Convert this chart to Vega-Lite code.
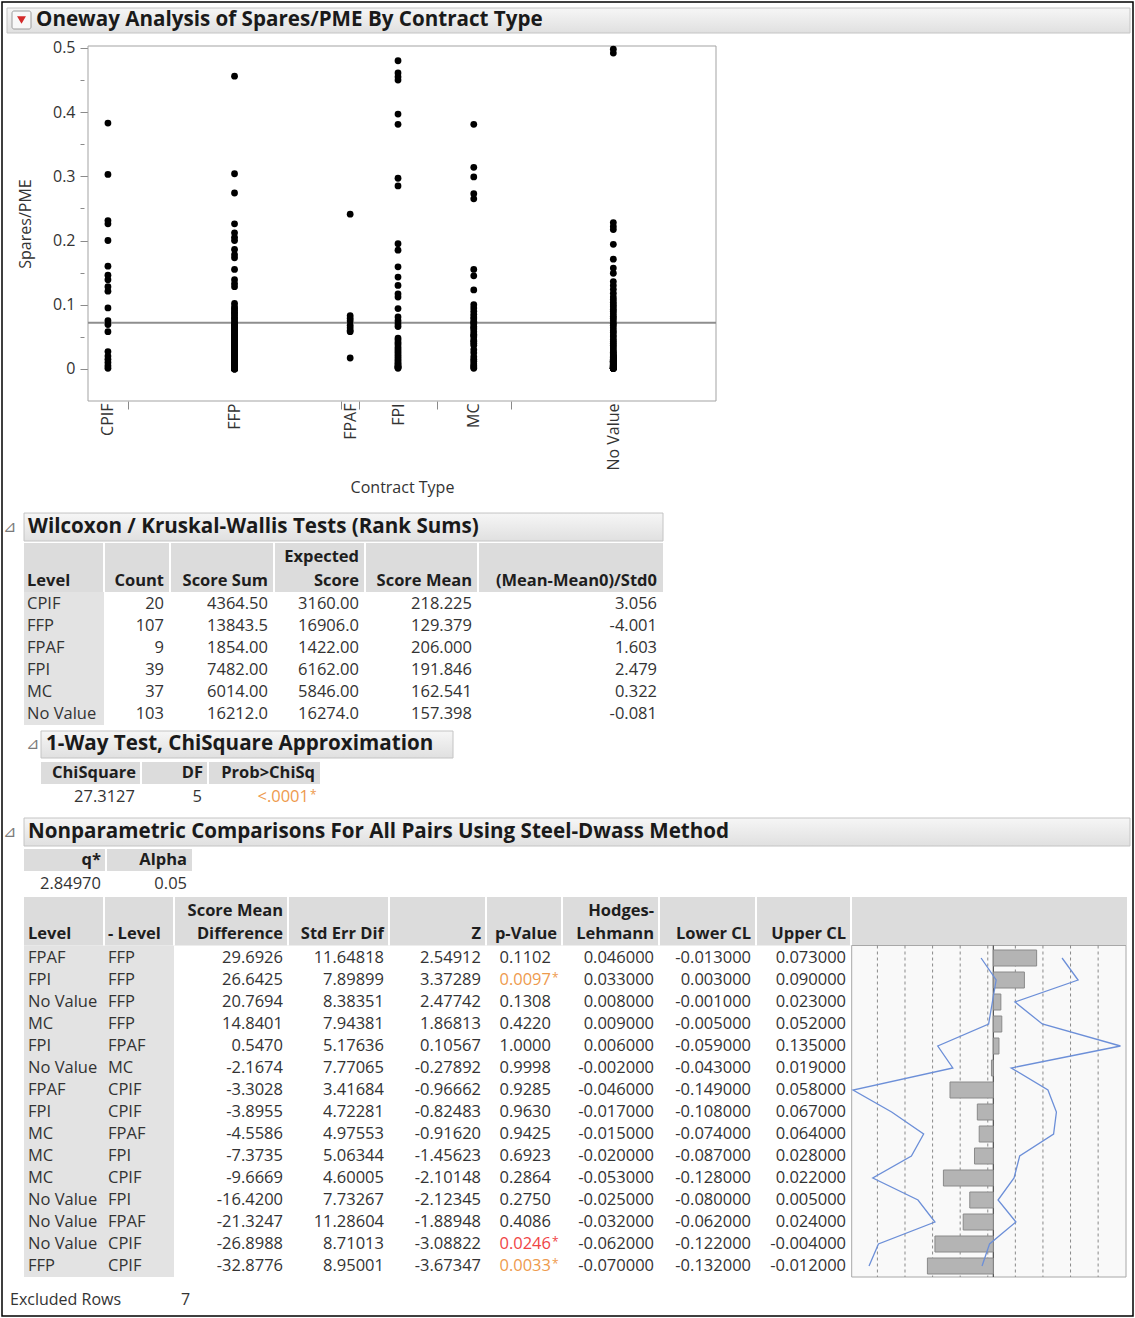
{
"$schema":"https://vega.github.io/schema/vega-lite/v6.json",
"width":1131,"height":1314,"padding":2,"autosize":"none",
"background":"#ffffff",
"config":{
 "view":{"stroke":"#000000","strokeWidth":1.5,"fill":"#ffffff"},
 "font":"Open Sans",
 "locale":{"number":{"decimal":".","thousands":",","grouping":[3],"currency":["$",""],"minus":"-"}},
 "text":{"font":"Open Sans","fontSize":16.5,"color":"#333333"}
},
"datasets":{
 "spares":[
  {"t":"CPIF","v":[0.383,0.303,0.231,0.226,0.200,0.160,0.146,0.139,0.128,0.121,0.095,0.075,0.069,0.058,0.027,0.020,0.015,0.010,0.005,0.001]},
  {"t":"FFP","v":[0.456,0.304,0.274,0.226,0.212,0.205,0.200,0.186,0.178,0.173,0.155,0.139,0.133,0.128,0.102,0.097,0.094,0.091,0.088,0.086,0.083,0.080,0.078,0.075,0.072,0.070,0.068,0.066,0.064,0.062,0.060,0.058,0.056,0.054,0.052,0.050,0.049,0.047,0.046,0.044,0.043,0.041,0.040,0.038,0.037,0.035,0.034,0.033,0.032,0.031,0.030,0.029,0.028,0.027,0.026,0.025,0.024,0.023,0.022,0.021,0.020,0.019,0.018,0.017,0.016,0.015,0.014,0.013,0.012,0.011,0.010,0.009,0.008,0.007,0.006,0.0055,0.005,0.0045,0.004,0.0035,0.003,0.0025,0.002,0.0015,0.001,0.001,0.0008,0.0006,0.0005,0.0004,0.0003,0.0002,0.0001,0,0,0,0,0.069,0.061,0.053,0.045,0.039,0.036,0.024,0.012,0.006,0.003]},
  {"t":"FPAF","v":[0.241,0.083,0.079,0.075,0.068,0.064,0.060,0.058,0.017]},
  {"t":"FPI","v":[0.480,0.461,0.455,0.450,0.397,0.381,0.297,0.285,0.195,0.185,0.159,0.143,0.130,0.117,0.112,0.094,0.081,0.075,0.070,0.066,0.048,0.045,0.041,0.038,0.034,0.031,0.028,0.025,0.022,0.019,0.016,0.013,0.010,0.008,0.006,0.004,0.003,0.002,0.001]},
  {"t":"MC","v":[0.381,0.314,0.299,0.273,0.265,0.155,0.145,0.123,0.100,0.095,0.090,0.085,0.081,0.078,0.074,0.072,0.070,0.066,0.064,0.062,0.058,0.054,0.052,0.050,0.045,0.043,0.040,0.037,0.030,0.025,0.019,0.015,0.012,0.008,0.005,0.003,0.001]},
  {"t":"No Value","v":[0.498,0.492,0.228,0.222,0.217,0.194,0.171,0.157,0.149,0.136,0.130,0.124,0.118,0.112,0.108,0.104,0.100,0.097,0.093,0.090,0.086,0.082,0.079,0.075,0.071,0.068,0.064,0.060,0.057,0.053,0.050,0.046,0.043,0.040,0.037,0.034,0.031,0.028,0.026,0.024,0.022,0.020,0.018,0.016,0.015,0.014,0.013,0.012,0.011,0.010,0.009,0.008,0.007,0.012,0.011,0.010,0.0095,0.009,0.0085,0.008,0.0075,0.007,0.0065,0.006,0.006,0.0055,0.0055,0.005,0.005,0.0045,0.0045,0.004,0.004,0.0035,0.0035,0.003,0.003,0.0025,0.0025,0.002,0.002,0.0015,0.0015,0.001,0.001,0.001,0.001,0.001,0.001,0.001,0.001,0.001,0.001,0.020,0.019,0.017,0.015,0.013,0.012,0.011,0.010,0.004,0.002]}
 ],
 "wilcoxon":[
  {"lv":"CPIF","n":20,"ss":4364.5,"es":3160,"sm":218.225,"sd":3.056},
  {"lv":"FFP","n":107,"ss":13843.5,"es":16906,"sm":129.379,"sd":-4.001},
  {"lv":"FPAF","n":9,"ss":1854,"es":1422,"sm":206,"sd":1.603},
  {"lv":"FPI","n":39,"ss":7482,"es":6162,"sm":191.846,"sd":2.479},
  {"lv":"MC","n":37,"ss":6014,"es":5846,"sm":162.541,"sd":0.322},
  {"lv":"No Value","n":103,"ss":16212,"es":16274,"sm":157.398,"sd":-0.081}
 ],
 "pairs":[
  {"lv":"FPAF","lv2":"FFP","d":29.6926,"se":11.64818,"z":2.54912,"p":0.1102,"hl":0.046,"lo":-0.013,"hi":0.073},
  {"lv":"FPI","lv2":"FFP","d":26.6425,"se":7.89899,"z":3.37289,"p":0.0097,"hl":0.033,"lo":0.003,"hi":0.09},
  {"lv":"No Value","lv2":"FFP","d":20.7694,"se":8.38351,"z":2.47742,"p":0.1308,"hl":0.008,"lo":-0.001,"hi":0.023},
  {"lv":"MC","lv2":"FFP","d":14.8401,"se":7.94381,"z":1.86813,"p":0.422,"hl":0.009,"lo":-0.005,"hi":0.052},
  {"lv":"FPI","lv2":"FPAF","d":0.547,"se":5.17636,"z":0.10567,"p":1.0,"hl":0.006,"lo":-0.059,"hi":0.135},
  {"lv":"No Value","lv2":"MC","d":-2.1674,"se":7.77065,"z":-0.27892,"p":0.9998,"hl":-0.002,"lo":-0.043,"hi":0.019},
  {"lv":"FPAF","lv2":"CPIF","d":-3.3028,"se":3.41684,"z":-0.96662,"p":0.9285,"hl":-0.046,"lo":-0.149,"hi":0.058},
  {"lv":"FPI","lv2":"CPIF","d":-3.8955,"se":4.72281,"z":-0.82483,"p":0.963,"hl":-0.017,"lo":-0.108,"hi":0.067},
  {"lv":"MC","lv2":"FPAF","d":-4.5586,"se":4.97553,"z":-0.9162,"p":0.9425,"hl":-0.015,"lo":-0.074,"hi":0.064},
  {"lv":"MC","lv2":"FPI","d":-7.3735,"se":5.06344,"z":-1.45623,"p":0.6923,"hl":-0.02,"lo":-0.087,"hi":0.028},
  {"lv":"MC","lv2":"CPIF","d":-9.6669,"se":4.60005,"z":-2.10148,"p":0.2864,"hl":-0.053,"lo":-0.128,"hi":0.022},
  {"lv":"No Value","lv2":"FPI","d":-16.42,"se":7.73267,"z":-2.12345,"p":0.275,"hl":-0.025,"lo":-0.08,"hi":0.005},
  {"lv":"No Value","lv2":"FPAF","d":-21.3247,"se":11.28604,"z":-1.88948,"p":0.4086,"hl":-0.032,"lo":-0.062,"hi":0.024},
  {"lv":"No Value","lv2":"CPIF","d":-26.8988,"se":8.71013,"z":-3.08822,"p":0.0246,"hl":-0.062,"lo":-0.122,"hi":-0.004},
  {"lv":"FFP","lv2":"CPIF","d":-32.8776,"se":8.95001,"z":-3.67347,"p":0.0033,"hl":-0.07,"lo":-0.132,"hi":-0.012}
 ]
},
"resolve":{"scale":{"x":"independent","y":"independent"}},
"layer":[
 {"data":{"values":[{"title":"Oneway Analysis of Spares/PME By Contract Type"}]},
  "layer":[
   {"mark":{"type":"rect","fill":{"x1":0,"y1":0,"x2":0,"y2":1,"gradient":"linear","stops":[{"offset":0,"color":"#f6f6f6"},{"offset":1,"color":"#e0e0e0"}]},"stroke":"#c4c4c4","strokeWidth":1},
    "encoding":{"x":{"datum":0,"type":"quantitative","scale":{"domain":[0,1,2,3],"range":[5,10,29,1128],"nice":false,"zero":false},"axis":null},"x2":{"datum":3},"y":{"datum":0,"type":"quantitative","scale":{"domain":[0,1,2,3],"range":[6,9,27,31],"nice":false,"zero":false},"axis":null},"y2":{"datum":3}}},
   {"mark":{"type":"rect","fill":"#f8f8f8","stroke":"#9c9c9c","strokeWidth":1,"cornerRadius":2},
    "encoding":{"x":{"datum":1,"type":"quantitative","scale":{"domain":[0,1,2,3],"range":[5,10,29,1128],"nice":false,"zero":false},"axis":null},"x2":{"datum":2},"y":{"datum":1,"type":"quantitative","scale":{"domain":[0,1,2,3],"range":[6,9,27,31],"nice":false,"zero":false},"axis":null},"y2":{"datum":2}}},
   {"mark":{"type":"point","shape":"triangle-down","filled":true,"color":"#d42a2a","size":80,"opacity":1},
    "encoding":{"x":{"datum":1.5,"type":"quantitative","scale":{"domain":[0,1,2,3],"range":[5,10,29,1128],"nice":false,"zero":false},"axis":null},"y":{"datum":1.5,"type":"quantitative","scale":{"domain":[0,1,2,3],"range":[6,9,27,31],"nice":false,"zero":false},"axis":null}}},
   {"mark":{"type":"text","align":"left","baseline":"middle","dx":5,"fontSize":20.6,"fontWeight":"bold","color":"#1a1a1a"},
    "encoding":{"x":{"datum":2,"type":"quantitative","scale":{"domain":[0,1,2,3],"range":[5,10,29,1128],"nice":false,"zero":false},"axis":null},"y":{"datum":1.5,"type":"quantitative","scale":{"domain":[0,1,2,3],"range":[6,9,27,31],"nice":false,"zero":false},"axis":null},"text":{"field":"title","type":"nominal"}}}
  ]},
 {"layer":[
   {"data":{"values":[{}]},"mark":{"type":"rect","fill":"#ffffff","stroke":"#a3a3a3","strokeWidth":1},
    "encoding":{"x":{"datum":0.5,"type":"quantitative","scale":{"domain":[0.5,315.5],"range":[86,714],"nice":false,"zero":false}},"x2":{"datum":315.5},"y":{"datum":-0.05,"type":"quantitative","scale":{"domain":[-0.05,0.503],"range":[399,44],"nice":false,"zero":false}},"y2":{"datum":0.503}}},
   {"data":{"name":"spares"},"transform":[{"flatten":["v"]}],
    "mark":{"type":"rule","color":"#8e8e8e","strokeWidth":2},
    "encoding":{"y":{"aggregate":"mean","field":"v","type":"quantitative","scale":{"domain":[-0.05,0.503],"range":[399,44],"nice":false,"zero":false}},"x":{"datum":0.5,"type":"quantitative","scale":{"domain":[0.5,315.5],"range":[86,714],"nice":false,"zero":false}},"x2":{"datum":315.5}}},
   {"data":{"name":"spares"},
    "transform":[{"flatten":["v"]},{"window":[{"op":"row_number","as":"rk"}],"sort":[{"field":"t","order":"ascending"}]},{"joinaggregate":[{"op":"mean","field":"rk","as":"xc"}],"groupby":["t"]}],
    "mark":{"type":"circle","color":"#000000","size":46,"opacity":1},
    "encoding":{
     "x":{"field":"xc","type":"quantitative","scale":{"domain":[0.5,315.5],"range":[86,714],"nice":false,"zero":false},
      "axis":{"orient":"bottom","offset":-915,"values":[10.5,20.5,74,127.5,132,136.5,156,175.5,194,212.5,264],
       "labelExpr":"datum.value==10.5?'CPIF':datum.value==74?'FFP':datum.value==132?'FPAF':datum.value==156?'FPI':datum.value==194?'MC':datum.value==264?'No Value':''",
       "labelAngle":270,"labelAlign":"right","labelBaseline":"middle","labelPadding":-6,"labelFontSize":16,"labelFont":"Open Sans","labelColor":"#333333","labelOverlap":false,"labelBound":false,"labelFlush":false,
       "tickSize":8,"tickColor":"#8a8a8a","tickOpacity":{"condition":{"test":"indexof([10.5,74,132,156,194,264], datum.value) >= 0","value":0},"value":1},
       "domain":false,"grid":false,
       "title":"Contract Type","titleFont":"Open Sans","titleFontSize":16,"titleFontWeight":"normal","titleColor":"#333333","titlePadding":9}},
     "y":{"field":"v","type":"quantitative","scale":{"domain":[-0.05,0.503],"range":[399,44],"nice":false,"zero":false},
      "axis":{"orient":"left","offset":-86,"values":[0,0.05,0.1,0.15,0.2,0.25,0.3,0.35,0.4,0.45,0.5],
       "labelExpr":"round(datum.value*100) % 10 == 0 ? format(datum.value, '~g') : ''",
       "labelFontSize":16,"labelFont":"Open Sans","labelColor":"#333333","labelPadding":5,"tickSize":8,
       "tickOpacity":1,
       "tickWidth":{"condition":{"test":"round(datum.value*100) % 10 != 0","value":1},"value":1},
       "tickDash":{"condition":{"test":"round(datum.value*100) % 10 != 0","value":[0,4,4,0]},"value":[]},
       "tickColor":"#8a8a8a","domain":false,"grid":false,
       "title":"Spares/PME","titleFont":"Open Sans","titleFontSize":16,"titleFontWeight":"normal","titleColor":"#333333","titlePadding":19}}}}
  ]},
 {"layer":[
   {"data":{"values":[{"title":"Wilcoxon / Kruskal-Wallis Tests (Rank Sums)"}]},"layer":[
     {"mark":{"type":"rect","fill":{"x1":0,"y1":0,"x2":0,"y2":1,"gradient":"linear","stops":[{"offset":0,"color":"#f6f6f6"},{"offset":1,"color":"#e0e0e0"}]},"stroke":"#c4c4c4","strokeWidth":1},
      "encoding":{"x":{"datum":0,"type":"quantitative","scale":{"domain":[-1,0,1,2,3,4,5,6],"range":[1,22,102,168,272,363,476,661],"nice":false,"zero":false},"axis":null},"x2":{"datum":6},"y":{"datum":-2.79,"type":"quantitative","scale":{"domain":[0,1,6],"range":[578,602,712],"nice":false,"zero":false},"axis":null},"y2":{"datum":-1.625}}},
     {"mark":{"type":"text","align":"left","baseline":"middle","font":"DejaVu Sans","fontSize":16,"color":"#7a7a7a","text":"\u22bf"},
      "encoding":{"x":{"datum":-1,"type":"quantitative","scale":{"domain":[-1,0,1,2,3,4,5,6],"range":[1,22,102,168,272,363,476,661],"nice":false,"zero":false},"axis":null},"y":{"datum":-2.21,"type":"quantitative","scale":{"domain":[0,1,6],"range":[578,602,712],"nice":false,"zero":false},"axis":null}}},
     {"mark":{"type":"text","align":"left","baseline":"middle","dx":4,"fontSize":20.6,"fontWeight":"bold","color":"#1a1a1a"},
      "encoding":{"x":{"datum":0,"type":"quantitative","scale":{"domain":[-1,0,1,2,3,4,5,6],"range":[1,22,102,168,272,363,476,661],"nice":false,"zero":false},"axis":null},"y":{"datum":-2.21,"type":"quantitative","scale":{"domain":[0,1,6],"range":[578,602,712],"nice":false,"zero":false},"axis":null},"text":{"field":"title","type":"nominal"}}},
     {"mark":{"type":"rect","fill":"#dcdcdc"},
      "encoding":{"x":{"datum":0,"type":"quantitative","scale":{"domain":[-1,0,1,2,3,4,5,6],"range":[1,22,102,168,272,363,476,661],"nice":false,"zero":false},"axis":null},"x2":{"datum":6},"y":{"datum":-1.54,"type":"quantitative","scale":{"domain":[0,1,6],"range":[578,602,712],"nice":false,"zero":false},"axis":null},"y2":{"datum":0.5}}},
     {"mark":{"type":"rect","fill":"#e3e3e3"},
      "encoding":{"x":{"datum":0,"type":"quantitative","scale":{"domain":[-1,0,1,2,3,4,5,6],"range":[1,22,102,168,272,363,476,661],"nice":false,"zero":false},"axis":null},"x2":{"datum":1},"y":{"datum":0.5,"type":"quantitative","scale":{"domain":[0,1,6],"range":[578,602,712],"nice":false,"zero":false},"axis":null},"y2":{"datum":6.5}}}
   ]},
   {"data":{"values":[{"c":1},{"c":2},{"c":3},{"c":4},{"c":5}]},"mark":{"type":"rule","color":"#ffffff","strokeWidth":2},
    "encoding":{"x":{"field":"c","type":"quantitative","scale":{"domain":[-1,0,1,2,3,4,5,6],"range":[1,22,102,168,272,363,476,661],"nice":false,"zero":false},"axis":null},"y":{"datum":-1.54,"type":"quantitative","scale":{"domain":[0,1,6],"range":[578,602,712],"nice":false,"zero":false},"axis":null},"y2":{"datum":0.5}}},
   {"data":{"values":[{"c":0,"s":"Level"}]},"mark":{"type":"text","align":"left","baseline":"alphabetic","dx":3,"dy":6,"fontWeight":"bold","color":"#1e1e1e"},
    "encoding":{"x":{"field":"c","type":"quantitative","scale":{"domain":[-1,0,1,2,3,4,5,6],"range":[1,22,102,168,272,363,476,661],"nice":false,"zero":false},"axis":null},"y":{"datum":0,"type":"quantitative","scale":{"domain":[0,1,6],"range":[578,602,712],"nice":false,"zero":false},"axis":null},"text":{"field":"s","type":"nominal"}}},
   {"data":{"values":[{"c":2,"s":"Count"},{"c":3,"s":"Score Sum"},{"c":5,"s":"Score Mean"},{"c":6,"s":"(Mean-Mean0)/Std0"}]},
    "mark":{"type":"text","align":"right","baseline":"alphabetic","dx":-6,"dy":6,"fontWeight":"bold","color":"#1e1e1e"},
    "encoding":{"x":{"field":"c","type":"quantitative","scale":{"domain":[-1,0,1,2,3,4,5,6],"range":[1,22,102,168,272,363,476,661],"nice":false,"zero":false},"axis":null},"y":{"datum":0,"type":"quantitative","scale":{"domain":[0,1,6],"range":[578,602,712],"nice":false,"zero":false},"axis":null},"text":{"field":"s","type":"nominal"}}},
   {"data":{"values":[{"c":4,"s":"Expected\nScore"}]},
    "mark":{"type":"text","align":"right","baseline":"alphabetic","dx":-6,"dy":6,"fontWeight":"bold","color":"#1e1e1e","lineBreak":"\n","lineHeight":24},
    "encoding":{"x":{"field":"c","type":"quantitative","scale":{"domain":[-1,0,1,2,3,4,5,6],"range":[1,22,102,168,272,363,476,661],"nice":false,"zero":false},"axis":null},"y":{"datum":-1,"type":"quantitative","scale":{"domain":[0,1,6],"range":[578,602,712],"nice":false,"zero":false},"axis":null},"text":{"field":"s","type":"nominal"}}},
   {"data":{"name":"wilcoxon"},"transform":[{"window":[{"op":"row_number","as":"r"}]}],"layer":[
     {"mark":{"type":"text","align":"left","baseline":"middle","dx":3},
      "encoding":{"x":{"datum":0,"type":"quantitative","scale":{"domain":[-1,0,1,2,3,4,5,6],"range":[1,22,102,168,272,363,476,661],"nice":false,"zero":false},"axis":null},"y":{"field":"r","type":"quantitative","scale":{"domain":[0,1,6],"range":[578,602,712],"nice":false,"zero":false},"axis":null},"text":{"field":"lv","type":"nominal"}}},
     {"mark":{"type":"text","align":"right","baseline":"middle","dx":-6},
      "encoding":{"x":{"datum":2,"type":"quantitative","scale":{"domain":[-1,0,1,2,3,4,5,6],"range":[1,22,102,168,272,363,476,661],"nice":false,"zero":false},"axis":null},"y":{"field":"r","type":"quantitative","scale":{"domain":[0,1,6],"range":[578,602,712],"nice":false,"zero":false},"axis":null},"text":{"field":"n","type":"quantitative","format":"d"}}},
     {"mark":{"type":"text","align":"right","baseline":"middle","dx":-6},
      "encoding":{"x":{"datum":3,"type":"quantitative","scale":{"domain":[-1,0,1,2,3,4,5,6],"range":[1,22,102,168,272,363,476,661],"nice":false,"zero":false},"axis":null},"y":{"field":"r","type":"quantitative","scale":{"domain":[0,1,6],"range":[578,602,712],"nice":false,"zero":false},"axis":null},"text":{"field":"ss","type":"quantitative","format":".6r"}}},
     {"mark":{"type":"text","align":"right","baseline":"middle","dx":-6},
      "encoding":{"x":{"datum":4,"type":"quantitative","scale":{"domain":[-1,0,1,2,3,4,5,6],"range":[1,22,102,168,272,363,476,661],"nice":false,"zero":false},"axis":null},"y":{"field":"r","type":"quantitative","scale":{"domain":[0,1,6],"range":[578,602,712],"nice":false,"zero":false},"axis":null},"text":{"field":"es","type":"quantitative","format":".6r"}}},
     {"mark":{"type":"text","align":"right","baseline":"middle","dx":-6},
      "encoding":{"x":{"datum":5,"type":"quantitative","scale":{"domain":[-1,0,1,2,3,4,5,6],"range":[1,22,102,168,272,363,476,661],"nice":false,"zero":false},"axis":null},"y":{"field":"r","type":"quantitative","scale":{"domain":[0,1,6],"range":[578,602,712],"nice":false,"zero":false},"axis":null},"text":{"field":"sm","type":"quantitative","format":".3f"}}},
     {"mark":{"type":"text","align":"right","baseline":"middle","dx":-6},
      "encoding":{"x":{"datum":6,"type":"quantitative","scale":{"domain":[-1,0,1,2,3,4,5,6],"range":[1,22,102,168,272,363,476,661],"nice":false,"zero":false},"axis":null},"y":{"field":"r","type":"quantitative","scale":{"domain":[0,1,6],"range":[578,602,712],"nice":false,"zero":false},"axis":null},"text":{"field":"sd","type":"quantitative","format":".3f"}}}
   ]}
  ]},
 {"layer":[
   {"data":{"values":[{"title":"1-Way Test, ChiSquare Approximation"}]},"layer":[
     {"mark":{"type":"rect","fill":{"x1":0,"y1":0,"x2":0,"y2":1,"gradient":"linear","stops":[{"offset":0,"color":"#f6f6f6"},{"offset":1,"color":"#e0e0e0"}]},"stroke":"#c4c4c4","strokeWidth":1},
      "encoding":{"x":{"datum":0,"type":"quantitative","scale":{"domain":[-1,0,1,2,3,4],"range":[24,39,139,206,318,451],"nice":false,"zero":false},"axis":null},"x2":{"datum":4},"y":{"datum":-1.75,"type":"quantitative","scale":{"domain":[0,1],"range":[771,795],"nice":false,"zero":false},"axis":null},"y2":{"datum":-0.625}}},
     {"mark":{"type":"text","align":"left","baseline":"middle","font":"DejaVu Sans","fontSize":16,"color":"#7a7a7a","text":"\u22bf"},
      "encoding":{"x":{"datum":-1,"type":"quantitative","scale":{"domain":[-1,0,1,2,3,4],"range":[24,39,139,206,318,451],"nice":false,"zero":false},"axis":null},"y":{"datum":-1.19,"type":"quantitative","scale":{"domain":[0,1],"range":[771,795],"nice":false,"zero":false},"axis":null}}},
     {"mark":{"type":"text","align":"left","baseline":"middle","dx":5,"fontSize":20.6,"fontWeight":"bold","color":"#1a1a1a"},
      "encoding":{"x":{"datum":0,"type":"quantitative","scale":{"domain":[-1,0,1,2,3,4],"range":[24,39,139,206,318,451],"nice":false,"zero":false},"axis":null},"y":{"datum":-1.19,"type":"quantitative","scale":{"domain":[0,1],"range":[771,795],"nice":false,"zero":false},"axis":null},"text":{"field":"title","type":"nominal"}}},
     {"mark":{"type":"rect","fill":"#dcdcdc"},
      "encoding":{"x":{"datum":0,"type":"quantitative","scale":{"domain":[-1,0,1,2,3,4],"range":[24,39,139,206,318,451],"nice":false,"zero":false},"axis":null},"x2":{"datum":3},"y":{"datum":-0.46,"type":"quantitative","scale":{"domain":[0,1],"range":[771,795],"nice":false,"zero":false},"axis":null},"y2":{"datum":0.46}}}
   ]},
   {"data":{"values":[{"c":1},{"c":2}]},"mark":{"type":"rule","color":"#ffffff","strokeWidth":2},
    "encoding":{"x":{"field":"c","type":"quantitative","scale":{"domain":[-1,0,1,2,3,4],"range":[24,39,139,206,318,451],"nice":false,"zero":false},"axis":null},"y":{"datum":-0.46,"type":"quantitative","scale":{"domain":[0,1],"range":[771,795],"nice":false,"zero":false},"axis":null},"y2":{"datum":0.46}}},
   {"data":{"values":[{"c":1,"s":"ChiSquare"},{"c":2,"s":"DF"},{"c":3,"s":"Prob>ChiSq"}]},
    "mark":{"type":"text","align":"right","baseline":"middle","dx":-5,"fontWeight":"bold","color":"#1e1e1e"},
    "encoding":{"x":{"field":"c","type":"quantitative","scale":{"domain":[-1,0,1,2,3,4],"range":[24,39,139,206,318,451],"nice":false,"zero":false},"axis":null},"y":{"datum":0,"type":"quantitative","scale":{"domain":[0,1],"range":[771,795],"nice":false,"zero":false},"axis":null},"text":{"field":"s","type":"nominal"}}},
   {"data":{"values":[{"chisq":27.3127,"df":5,"p":0.00005}]},"layer":[
     {"mark":{"type":"text","align":"right","baseline":"middle","dx":-6},
      "encoding":{"x":{"datum":1,"type":"quantitative","scale":{"domain":[-1,0,1,2,3,4],"range":[24,39,139,206,318,451],"nice":false,"zero":false},"axis":null},"y":{"datum":1,"type":"quantitative","scale":{"domain":[0,1],"range":[771,795],"nice":false,"zero":false},"axis":null},"text":{"field":"chisq","type":"quantitative","format":".4f"}}},
     {"mark":{"type":"text","align":"right","baseline":"middle","dx":-6},
      "encoding":{"x":{"datum":2,"type":"quantitative","scale":{"domain":[-1,0,1,2,3,4],"range":[24,39,139,206,318,451],"nice":false,"zero":false},"axis":null},"y":{"datum":1,"type":"quantitative","scale":{"domain":[0,1],"range":[771,795],"nice":false,"zero":false},"axis":null},"text":{"field":"df","type":"quantitative","format":"d"}}},
     {"mark":{"type":"text","align":"right","baseline":"middle","dx":-11},
      "encoding":{"x":{"datum":3,"type":"quantitative","scale":{"domain":[-1,0,1,2,3,4],"range":[24,39,139,206,318,451],"nice":false,"zero":false},"axis":null},"y":{"datum":1,"type":"quantitative","scale":{"domain":[0,1],"range":[771,795],"nice":false,"zero":false},"axis":null},
       "text":{"condition":{"test":"datum.p < 0.0001","value":"<.0001"},"field":"p","type":"quantitative","format":".4f"},
       "color":{"condition":[{"test":"datum.p < 0.01","value":"#ee9a4d"},{"test":"datum.p < 0.05","value":"#f04545"}],"value":"#333333"}}},
     {"transform":[{"filter":"datum.p < 0.05"}],"mark":{"type":"text","align":"left","baseline":"middle","dx":-10,"dy":-2,"fontSize":12,"text":"*"},
      "encoding":{"x":{"datum":3,"type":"quantitative","scale":{"domain":[-1,0,1,2,3,4],"range":[24,39,139,206,318,451],"nice":false,"zero":false},"axis":null},"y":{"datum":1,"type":"quantitative","scale":{"domain":[0,1],"range":[771,795],"nice":false,"zero":false},"axis":null},
       "color":{"condition":{"test":"datum.p < 0.01","value":"#ee9a4d"},"value":"#f04545"}}}
   ]}
  ]},
 {"layer":[
   {"data":{"values":[{"title":"Nonparametric Comparisons For All Pairs Using Steel-Dwass  Method"}]},"layer":[
     {"mark":{"type":"rect","fill":{"x1":0,"y1":0,"x2":0,"y2":1,"gradient":"linear","stops":[{"offset":0,"color":"#f6f6f6"},{"offset":1,"color":"#e0e0e0"}]},"stroke":"#c4c4c4","strokeWidth":1},
      "encoding":{"x":{"datum":0,"type":"quantitative","scale":{"domain":[-1,0,1,2,3],"range":[1,22,104,190,1128],"nice":false,"zero":false},"axis":null},"x2":{"datum":3},"y":{"datum":-1.75,"type":"quantitative","scale":{"domain":[0,1],"range":[858,882],"nice":false,"zero":false},"axis":null},"y2":{"datum":-0.583}}},
     {"mark":{"type":"text","align":"left","baseline":"middle","font":"DejaVu Sans","fontSize":16,"color":"#7a7a7a","text":"\u22bf"},
      "encoding":{"x":{"datum":-1,"type":"quantitative","scale":{"domain":[-1,0,1,2,3],"range":[1,22,104,190,1128],"nice":false,"zero":false},"axis":null},"y":{"datum":-1.17,"type":"quantitative","scale":{"domain":[0,1],"range":[858,882],"nice":false,"zero":false},"axis":null}}},
     {"mark":{"type":"text","align":"left","baseline":"middle","dx":4,"fontSize":20.6,"fontWeight":"bold","color":"#1a1a1a"},
      "encoding":{"x":{"datum":0,"type":"quantitative","scale":{"domain":[-1,0,1,2,3],"range":[1,22,104,190,1128],"nice":false,"zero":false},"axis":null},"y":{"datum":-1.17,"type":"quantitative","scale":{"domain":[0,1],"range":[858,882],"nice":false,"zero":false},"axis":null},"text":{"field":"title","type":"nominal"}}},
     {"mark":{"type":"rect","fill":"#dcdcdc"},
      "encoding":{"x":{"datum":0,"type":"quantitative","scale":{"domain":[-1,0,1,2,3],"range":[1,22,104,190,1128],"nice":false,"zero":false},"axis":null},"x2":{"datum":2},"y":{"datum":-0.46,"type":"quantitative","scale":{"domain":[0,1],"range":[858,882],"nice":false,"zero":false},"axis":null},"y2":{"datum":0.46}}}
   ]},
   {"data":{"values":[{"c":1}]},"mark":{"type":"rule","color":"#ffffff","strokeWidth":2},
    "encoding":{"x":{"field":"c","type":"quantitative","scale":{"domain":[-1,0,1,2,3],"range":[1,22,104,190,1128],"nice":false,"zero":false},"axis":null},"y":{"datum":-0.46,"type":"quantitative","scale":{"domain":[0,1],"range":[858,882],"nice":false,"zero":false},"axis":null},"y2":{"datum":0.46}}},
   {"data":{"values":[{"c":1,"s":"q*"},{"c":2,"s":"Alpha"}]},
    "mark":{"type":"text","align":"right","baseline":"middle","dx":-5,"fontWeight":"bold","color":"#1e1e1e"},
    "encoding":{"x":{"field":"c","type":"quantitative","scale":{"domain":[-1,0,1,2,3],"range":[1,22,104,190,1128],"nice":false,"zero":false},"axis":null},"y":{"datum":0,"type":"quantitative","scale":{"domain":[0,1],"range":[858,882],"nice":false,"zero":false},"axis":null},"text":{"field":"s","type":"nominal"}}},
   {"data":{"values":[{"q":2.8497,"alpha":0.05}]},"layer":[
     {"mark":{"type":"text","align":"right","baseline":"middle","dx":-5},
      "encoding":{"x":{"datum":1,"type":"quantitative","scale":{"domain":[-1,0,1,2,3],"range":[1,22,104,190,1128],"nice":false,"zero":false},"axis":null},"y":{"datum":1,"type":"quantitative","scale":{"domain":[0,1],"range":[858,882],"nice":false,"zero":false},"axis":null},"text":{"field":"q","type":"quantitative","format":".5f"}}},
     {"mark":{"type":"text","align":"right","baseline":"middle","dx":-5},
      "encoding":{"x":{"datum":2,"type":"quantitative","scale":{"domain":[-1,0,1,2,3],"range":[1,22,104,190,1128],"nice":false,"zero":false},"axis":null},"y":{"datum":1,"type":"quantitative","scale":{"domain":[0,1],"range":[858,882],"nice":false,"zero":false},"axis":null},"text":{"field":"alpha","type":"quantitative","format":".2f"}}}
   ]}
  ]},
 {"resolve":{"scale":{"x":"independent"}},
  "layer":[
   {"layer":[
     {"data":{"values":[{}]},"mark":{"type":"rect","fill":"#dcdcdc"},
      "encoding":{"x":{"datum":0,"type":"quantitative","scale":{"domain":[-1,0,1,2,3,4,5,6,7,8,9,10],"range":[8,22,102,172,286,387,484,560,657,754,849,1125],"nice":false,"zero":false},"axis":null},"x2":{"datum":10},"y":{"datum":-1.44,"type":"quantitative","scale":{"domain":[0,1,15],"range":[931,956,1264],"nice":false,"zero":false,"padding":0},"axis":null},"y2":{"datum":0.5}}},
     {"data":{"values":[{}]},"mark":{"type":"rect","fill":"#e3e3e3"},
      "encoding":{"x":{"datum":0,"type":"quantitative","scale":{"domain":[-1,0,1,2,3,4,5,6,7,8,9,10],"range":[8,22,102,172,286,387,484,560,657,754,849,1125],"nice":false,"zero":false},"axis":null},"x2":{"datum":2},"y":{"datum":0.5,"type":"quantitative","scale":{"domain":[0,1,15],"range":[931,956,1264],"nice":false,"zero":false,"padding":0},"axis":null},"y2":{"datum":15.5}}},
     {"data":{"values":[{"c":1},{"c":2},{"c":3},{"c":4},{"c":5},{"c":6},{"c":7},{"c":8},{"c":9}]},"mark":{"type":"rule","color":"#ffffff","strokeWidth":2},
      "encoding":{"x":{"field":"c","type":"quantitative","scale":{"domain":[-1,0,1,2,3,4,5,6,7,8,9,10],"range":[8,22,102,172,286,387,484,560,657,754,849,1125],"nice":false,"zero":false},"axis":null},"y":{"datum":-1.44,"type":"quantitative","scale":{"domain":[0,1,15],"range":[931,956,1264],"nice":false,"zero":false,"padding":0},"axis":null},"y2":{"datum":0.5}}},
     {"data":{"values":[{"c":0,"s":"Level"},{"c":1,"s":"- Level"}]},
      "mark":{"type":"text","align":"left","baseline":"alphabetic","dx":4,"dy":6,"fontWeight":"bold","color":"#1e1e1e"},
      "encoding":{"x":{"field":"c","type":"quantitative","scale":{"domain":[-1,0,1,2,3,4,5,6,7,8,9,10],"range":[8,22,102,172,286,387,484,560,657,754,849,1125],"nice":false,"zero":false},"axis":null},"y":{"datum":0,"type":"quantitative","scale":{"domain":[0,1,15],"range":[931,956,1264],"nice":false,"zero":false,"padding":0},"axis":null},"text":{"field":"s","type":"nominal"}}},
     {"data":{"values":[{"c":4,"s":"Std Err Dif"},{"c":5,"s":"Z"},{"c":6,"s":"p-Value"},{"c":8,"s":"Lower CL"},{"c":9,"s":"Upper CL"}]},
      "mark":{"type":"text","align":"right","baseline":"alphabetic","dx":-5,"dy":6,"fontWeight":"bold","color":"#1e1e1e"},
      "encoding":{"x":{"field":"c","type":"quantitative","scale":{"domain":[-1,0,1,2,3,4,5,6,7,8,9,10],"range":[8,22,102,172,286,387,484,560,657,754,849,1125],"nice":false,"zero":false},"axis":null},"y":{"datum":0,"type":"quantitative","scale":{"domain":[0,1,15],"range":[931,956,1264],"nice":false,"zero":false,"padding":0},"axis":null},"text":{"field":"s","type":"nominal"}}},
     {"data":{"values":[{"c":3,"s":"Score Mean\nDifference"},{"c":7,"s":"Hodges-\nLehmann"}]},
      "mark":{"type":"text","align":"right","baseline":"alphabetic","dx":-5,"dy":6,"fontWeight":"bold","color":"#1e1e1e","lineBreak":"\n","lineHeight":23},
      "encoding":{"x":{"field":"c","type":"quantitative","scale":{"domain":[-1,0,1,2,3,4,5,6,7,8,9,10],"range":[8,22,102,172,286,387,484,560,657,754,849,1125],"nice":false,"zero":false},"axis":null},"y":{"datum":-0.92,"type":"quantitative","scale":{"domain":[0,1,15],"range":[931,956,1264],"nice":false,"zero":false,"padding":0},"axis":null},"text":{"field":"s","type":"nominal"}}},
     {"data":{"values":[{"label":"Excluded Rows","n":7}]},"layer":[
       {"mark":{"type":"text","align":"left","baseline":"middle","fontSize":16},
        "encoding":{"x":{"datum":-1,"type":"quantitative","scale":{"domain":[-1,0,1,2,3,4,5,6,7,8,9,10],"range":[8,22,102,172,286,387,484,560,657,754,849,1125],"nice":false,"zero":false},"axis":null},"y":{"datum":16.55,"type":"quantitative","scale":{"domain":[0,1,15],"range":[931,956,1264],"nice":false,"zero":false,"padding":0},"axis":null},"text":{"field":"label","type":"nominal"}}},
       {"mark":{"type":"text","align":"left","baseline":"middle","dx":7,"fontSize":16},
        "encoding":{"x":{"datum":2,"type":"quantitative","scale":{"domain":[-1,0,1,2,3,4,5,6,7,8,9,10],"range":[8,22,102,172,286,387,484,560,657,754,849,1125],"nice":false,"zero":false},"axis":null},"y":{"datum":16.55,"type":"quantitative","scale":{"domain":[0,1,15],"range":[931,956,1264],"nice":false,"zero":false,"padding":0},"axis":null},"text":{"field":"n","type":"quantitative","format":"d"}}}
     ]},
     {"data":{"name":"pairs"},"transform":[{"window":[{"op":"row_number","as":"r"}]}],"layer":[
       {"mark":{"type":"text","align":"left","baseline":"middle","dx":4},
        "encoding":{"x":{"datum":0,"type":"quantitative","scale":{"domain":[-1,0,1,2,3,4,5,6,7,8,9,10],"range":[8,22,102,172,286,387,484,560,657,754,849,1125],"nice":false,"zero":false},"axis":null},"y":{"field":"r","type":"quantitative","scale":{"domain":[0,1,15],"range":[931,956,1264],"nice":false,"zero":false,"padding":0},"axis":null},"text":{"field":"lv","type":"nominal"}}},
       {"mark":{"type":"text","align":"left","baseline":"middle","dx":4},
        "encoding":{"x":{"datum":1,"type":"quantitative","scale":{"domain":[-1,0,1,2,3,4,5,6,7,8,9,10],"range":[8,22,102,172,286,387,484,560,657,754,849,1125],"nice":false,"zero":false},"axis":null},"y":{"field":"r","type":"quantitative","scale":{"domain":[0,1,15],"range":[931,956,1264],"nice":false,"zero":false,"padding":0},"axis":null},"text":{"field":"lv2","type":"nominal"}}},
       {"mark":{"type":"text","align":"right","baseline":"middle","dx":-5},
        "encoding":{"x":{"datum":3,"type":"quantitative","scale":{"domain":[-1,0,1,2,3,4,5,6,7,8,9,10],"range":[8,22,102,172,286,387,484,560,657,754,849,1125],"nice":false,"zero":false},"axis":null},"y":{"field":"r","type":"quantitative","scale":{"domain":[0,1,15],"range":[931,956,1264],"nice":false,"zero":false,"padding":0},"axis":null},"text":{"field":"d","type":"quantitative","format":".4f"}}},
       {"mark":{"type":"text","align":"right","baseline":"middle","dx":-5},
        "encoding":{"x":{"datum":4,"type":"quantitative","scale":{"domain":[-1,0,1,2,3,4,5,6,7,8,9,10],"range":[8,22,102,172,286,387,484,560,657,754,849,1125],"nice":false,"zero":false},"axis":null},"y":{"field":"r","type":"quantitative","scale":{"domain":[0,1,15],"range":[931,956,1264],"nice":false,"zero":false,"padding":0},"axis":null},"text":{"field":"se","type":"quantitative","format":".5f"}}},
       {"mark":{"type":"text","align":"right","baseline":"middle","dx":-5},
        "encoding":{"x":{"datum":5,"type":"quantitative","scale":{"domain":[-1,0,1,2,3,4,5,6,7,8,9,10],"range":[8,22,102,172,286,387,484,560,657,754,849,1125],"nice":false,"zero":false},"axis":null},"y":{"field":"r","type":"quantitative","scale":{"domain":[0,1,15],"range":[931,956,1264],"nice":false,"zero":false,"padding":0},"axis":null},"text":{"field":"z","type":"quantitative","format":".5f"}}},
       {"mark":{"type":"text","align":"right","baseline":"middle","dx":-11},
        "encoding":{"x":{"datum":6,"type":"quantitative","scale":{"domain":[-1,0,1,2,3,4,5,6,7,8,9,10],"range":[8,22,102,172,286,387,484,560,657,754,849,1125],"nice":false,"zero":false},"axis":null},"y":{"field":"r","type":"quantitative","scale":{"domain":[0,1,15],"range":[931,956,1264],"nice":false,"zero":false,"padding":0},"axis":null},"text":{"field":"p","type":"quantitative","format":".4f"},
         "color":{"condition":[{"test":"datum.p < 0.01","value":"#ee9a4d"},{"test":"datum.p < 0.05","value":"#f04545"}],"value":"#333333"}}},
       {"transform":[{"filter":"datum.p < 0.05"}],"mark":{"type":"text","align":"left","baseline":"middle","dx":-10,"dy":-2,"fontSize":12,"text":"*"},
        "encoding":{"x":{"datum":6,"type":"quantitative","scale":{"domain":[-1,0,1,2,3,4,5,6,7,8,9,10],"range":[8,22,102,172,286,387,484,560,657,754,849,1125],"nice":false,"zero":false},"axis":null},"y":{"field":"r","type":"quantitative","scale":{"domain":[0,1,15],"range":[931,956,1264],"nice":false,"zero":false,"padding":0},"axis":null},
         "color":{"condition":{"test":"datum.p < 0.01","value":"#ee9a4d"},"value":"#f04545"}}},
       {"mark":{"type":"text","align":"right","baseline":"middle","dx":-5},
        "encoding":{"x":{"datum":7,"type":"quantitative","scale":{"domain":[-1,0,1,2,3,4,5,6,7,8,9,10],"range":[8,22,102,172,286,387,484,560,657,754,849,1125],"nice":false,"zero":false},"axis":null},"y":{"field":"r","type":"quantitative","scale":{"domain":[0,1,15],"range":[931,956,1264],"nice":false,"zero":false,"padding":0},"axis":null},"text":{"field":"hl","type":"quantitative","format":".6f"}}},
       {"mark":{"type":"text","align":"right","baseline":"middle","dx":-5},
        "encoding":{"x":{"datum":8,"type":"quantitative","scale":{"domain":[-1,0,1,2,3,4,5,6,7,8,9,10],"range":[8,22,102,172,286,387,484,560,657,754,849,1125],"nice":false,"zero":false},"axis":null},"y":{"field":"r","type":"quantitative","scale":{"domain":[0,1,15],"range":[931,956,1264],"nice":false,"zero":false,"padding":0},"axis":null},"text":{"field":"lo","type":"quantitative","format":".6f"}}},
       {"mark":{"type":"text","align":"right","baseline":"middle","dx":-5},
        "encoding":{"x":{"datum":9,"type":"quantitative","scale":{"domain":[-1,0,1,2,3,4,5,6,7,8,9,10],"range":[8,22,102,172,286,387,484,560,657,754,849,1125],"nice":false,"zero":false},"axis":null},"y":{"field":"r","type":"quantitative","scale":{"domain":[0,1,15],"range":[931,956,1264],"nice":false,"zero":false,"padding":0},"axis":null},"text":{"field":"hi","type":"quantitative","format":".6f"}}}
     ]}
   ]},
   {"layer":[
     {"data":{"values":[{}]},"mark":{"type":"rect","fill":"#f9f9f9","stroke":"#a8a8a8","strokeWidth":1},
      "encoding":{"x":{"datum":-0.1504,"type":"quantitative","scale":{"domain":[-0.1504,0.1409],"range":[849.7,1124],"nice":false,"zero":false,"padding":0},"axis":null},"x2":{"datum":0.1409},"y":{"datum":0.5,"type":"quantitative","scale":{"domain":[0,1,15],"range":[931,956,1264],"nice":false,"zero":false,"padding":0},"axis":null},"y2":{"datum":15.5}}},
     {"data":{"values":[{"g":-0.1231},{"g":-0.0938},{"g":-0.0645},{"g":-0.0352},{"g":-0.0059},{"g":0.0234},{"g":0.0527},{"g":0.082},{"g":0.1113}]},
      "mark":{"type":"rule","color":"#8a8a8a","strokeDash":[3,3],"strokeWidth":1},
      "encoding":{"x":{"field":"g","type":"quantitative","scale":{"domain":[-0.1504,0.1409],"range":[849.7,1124],"nice":false,"zero":false,"padding":0},"axis":null},"y":{"datum":0.5,"type":"quantitative","scale":{"domain":[0,1,15],"range":[931,956,1264],"nice":false,"zero":false,"padding":0},"axis":null},"y2":{"datum":15.5}}},
     {"data":{"values":[{}]},"mark":{"type":"rule","color":"#4a4a4a","strokeWidth":1.2},
      "encoding":{"x":{"datum":0,"type":"quantitative","scale":{"domain":[-0.1504,0.1409],"range":[849.7,1124],"nice":false,"zero":false,"padding":0},"axis":null},"y":{"datum":0.5,"type":"quantitative","scale":{"domain":[0,1,15],"range":[931,956,1264],"nice":false,"zero":false,"padding":0},"axis":null},"y2":{"datum":15.5}}},
     {"data":{"name":"pairs"},"transform":[{"window":[{"op":"row_number","as":"r"}]}],"layer":[
       {"mark":{"type":"bar","orient":"horizontal","size":16,"fill":"#b4b4b4","stroke":"#8a8a8a","strokeWidth":1},
        "encoding":{"x":{"field":"hl","type":"quantitative","scale":{"domain":[-0.1504,0.1409],"range":[849.7,1124],"nice":false,"zero":false,"padding":0},"axis":null},"x2":{"datum":0},"y":{"field":"r","type":"quantitative","scale":{"domain":[0,1,15],"range":[931,956,1264],"nice":false,"zero":false,"padding":0},"axis":null}}},
       {"mark":{"type":"line","color":"#6c8fd8","strokeWidth":1.3},
        "encoding":{"x":{"field":"lo","type":"quantitative","scale":{"domain":[-0.1504,0.1409],"range":[849.7,1124],"nice":false,"zero":false,"padding":0},"axis":null},"y":{"field":"r","type":"quantitative","scale":{"domain":[0,1,15],"range":[931,956,1264],"nice":false,"zero":false,"padding":0},"axis":null},"order":{"field":"r","type":"quantitative"}}},
       {"mark":{"type":"line","color":"#6c8fd8","strokeWidth":1.3},
        "encoding":{"x":{"field":"hi","type":"quantitative","scale":{"domain":[-0.1504,0.1409],"range":[849.7,1124],"nice":false,"zero":false,"padding":0},"axis":null},"y":{"field":"r","type":"quantitative","scale":{"domain":[0,1,15],"range":[931,956,1264],"nice":false,"zero":false,"padding":0},"axis":null},"order":{"field":"r","type":"quantitative"}}}
     ]}
   ]}
  ]}
]
}
